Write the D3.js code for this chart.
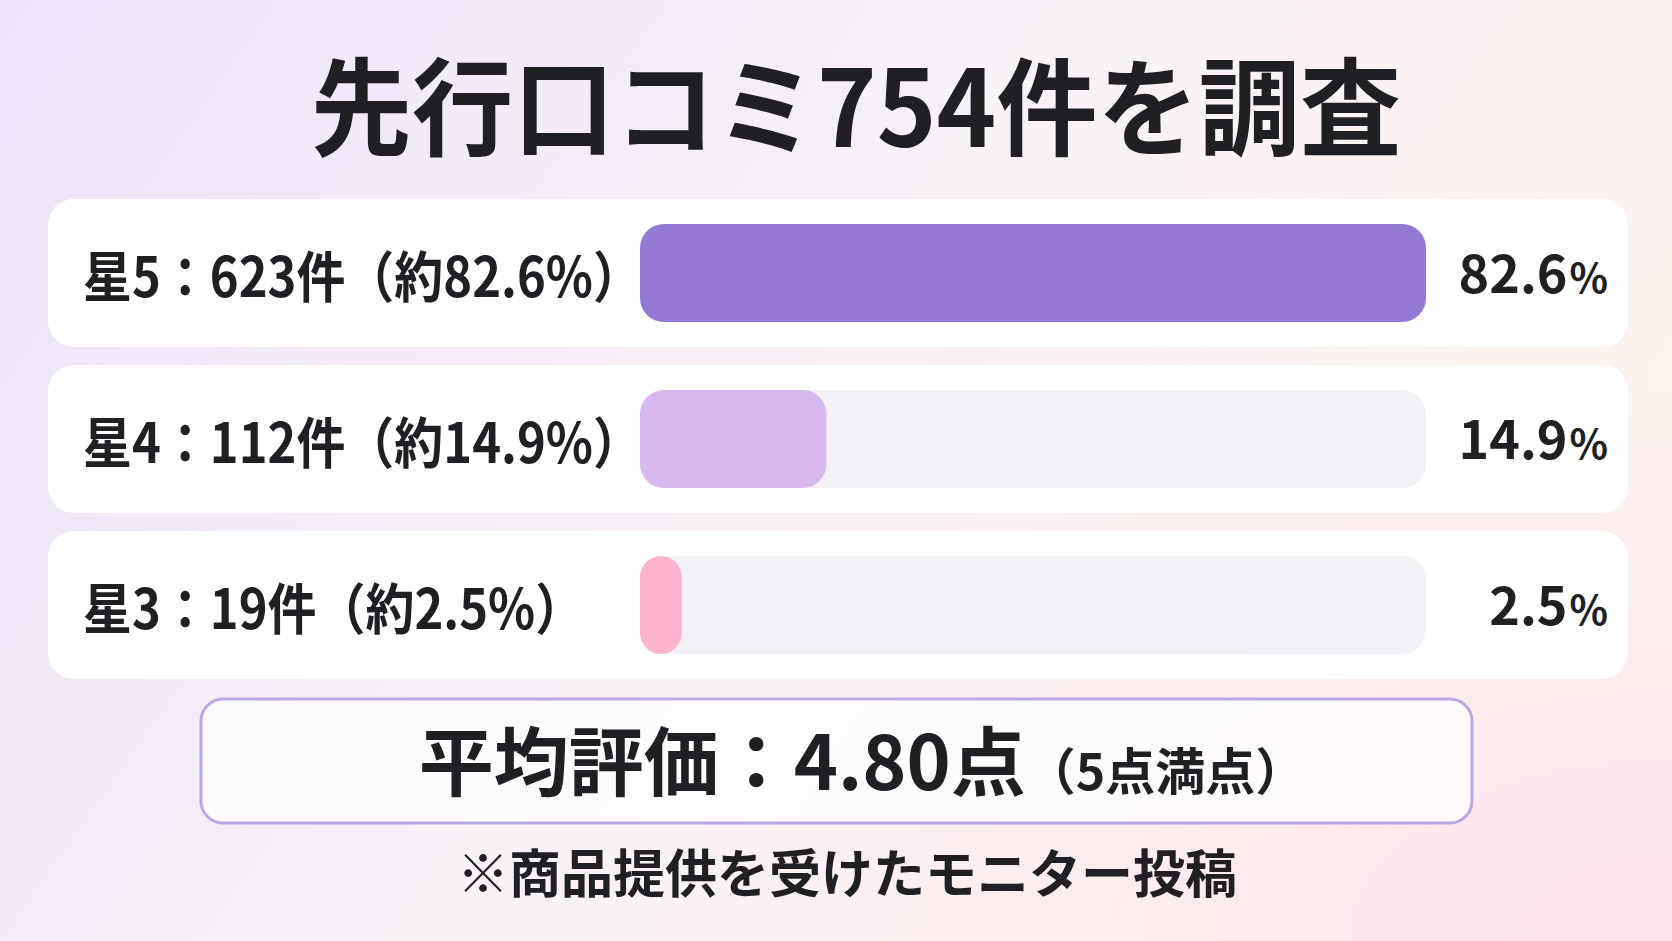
<!DOCTYPE html>
<html lang="ja">
<head>
  <meta charset="UTF-8" />
  <script src="https://d3js.org/d3.v7.min.js"></script>
  <title>先行口コミ754件を調査</title>
  <style>
    html, body { margin: 0; padding: 0; }
    svg { display: block; font-family: "Noto Sans CJK JP", "Noto Sans", sans-serif; }
  </style>
</head>
<body>
  <svg width="1672" height="941"></svg>

  <script>
    const width = 1672;
    const height = 941;

    // data
    const stars = ["星5", "星4", "星3"];
    const counts = [623, 112, 19];
    const shares = [82.6, 14.9, 2.5];
    const totalReviews = 754;
    const averageScore = 4.80;
    const maxScore = 5;

    const rows = stars.map((s, i) => ({ star: s, count: counts[i], share: shares[i] }));

    const ink = "#202024";
    const color = d3.scaleOrdinal()
      .domain(stars)
      .range(["#9479d3", "#d8b9ef", "#ffb3cf"]);

    // squeeze text horizontally a bit, the original face is narrower
    function condense(sel, k) {
      sel.each(function () {
        const len = this.getComputedTextLength();
        d3.select(this)
          .attr("textLength", len * k)
          .attr("lengthAdjust", "spacingAndGlyphs");
      });
    }

    const svg = d3.select("svg");
    const defs = svg.append("defs");

    const bg = defs.append("linearGradient")
      .attr("id", "bg")
      .attr("x1", "0%").attr("y1", "0%")
      .attr("x2", "100%").attr("y2", "40%");
    bg.append("stop").attr("offset", "0%").attr("stop-color", "#ebe3f8");
    bg.append("stop").attr("offset", "55%").attr("stop-color", "#f8f1f6");
    bg.append("stop").attr("offset", "100%").attr("stop-color", "#fdf4ef");

    const glow = defs.append("radialGradient")
      .attr("id", "glow")
      .attr("cx", "100%").attr("cy", "100%").attr("r", "60%");
    glow.append("stop").attr("offset", "0%").attr("stop-color", "#fce4ec").attr("stop-opacity", 1);
    glow.append("stop").attr("offset", "100%").attr("stop-color", "#fce4ec").attr("stop-opacity", 0);

    svg.append("rect").attr("width", width).attr("height", height).attr("fill", "url(#bg)");
    svg.append("rect").attr("width", width).attr("height", height).attr("fill", "url(#glow)");

    // title
    svg.append("text")
      .attr("x", 856)
      .attr("y", 147)
      .attr("text-anchor", "middle")
      .attr("font-size", 106)
      .attr("font-weight", 700)
      .attr("fill", ink)
      .text(`先行口コミ${totalReviews}件を調査`)
      .call(condense, 0.955);

    // rows
    const y = d3.scaleBand()
      .domain(stars)
      .range([199, 679])
      .paddingInner(0.108);

    const trackX = 640;
    const trackW = 786;
    const barH = 98;

    const x = d3.scalePow()
      .exponent(0.84)
      .domain([0, d3.max(shares)])
      .range([0, trackW]);

    const row = svg.selectAll("g.row")
      .data(rows)
      .enter()
      .append("g")
      .attr("class", "row")
      .attr("transform", d => `translate(0, ${y(d.star)})`);

    row.append("rect")
      .attr("x", 48)
      .attr("width", 1580)
      .attr("height", y.bandwidth())
      .attr("rx", 26)
      .attr("fill", "#ffffff")
      .attr("fill-opacity", 0.95);

    const barY = (y.bandwidth() - barH) / 2;

    row.append("rect")
      .attr("x", trackX)
      .attr("y", barY)
      .attr("width", trackW)
      .attr("height", barH)
      .attr("rx", 24)
      .attr("fill", "#f3f1f5");

    row.append("rect")
      .attr("x", trackX)
      .attr("y", barY)
      .attr("width", d => x(d.share))
      .attr("height", barH)
      .attr("rx", d => Math.min(24, x(d.share) / 2))
      .attr("fill", d => color(d.star));

    const mid = y.bandwidth() / 2;

    row.append("text")
      .attr("x", 83)
      .attr("y", mid + 24)
      .attr("font-size", 55)
      .attr("font-weight", 700)
      .attr("fill", ink)
      .text(d => `${d.star}：${d.count}件（約${d.share.toFixed(1)}%）`)
      .call(condense, 0.89);

    // right side value, percent sign a little smaller
    const pct = row.append("text")
      .attr("x", 1608)
      .attr("y", mid + 20)
      .attr("text-anchor", "end")
      .attr("font-size", 52)
      .attr("font-weight", 700)
      .attr("fill", ink);
    pct.append("tspan").text(d => d.share.toFixed(1));
    pct.append("tspan").attr("font-size", 40).attr("dx", 2).text("%");

    // summary box
    svg.append("rect")
      .attr("x", 201)
      .attr("y", 699)
      .attr("width", 1271)
      .attr("height", 124)
      .attr("rx", 22)
      .attr("fill", "#ffffff")
      .attr("fill-opacity", 0.75)
      .attr("stroke", "#b9a8e6")
      .attr("stroke-width", 3);

    const avg = svg.append("text")
      .attr("x", 862)
      .attr("y", 790)
      .attr("text-anchor", "middle")
      .attr("font-weight", 700)
      .attr("fill", ink);
    avg.append("tspan").attr("font-size", 75).text(`平均評価：${averageScore.toFixed(2)}点`);
    avg.append("tspan").attr("font-size", 50).text(`（${maxScore}点満点）`);

    // footnote
    svg.append("text")
      .attr("x", 847)
      .attr("y", 893)
      .attr("text-anchor", "middle")
      .attr("font-size", 52)
      .attr("font-weight", 700)
      .attr("fill", ink)
      .text("※商品提供を受けたモニター投稿");
  </script>
</body>
</html>
